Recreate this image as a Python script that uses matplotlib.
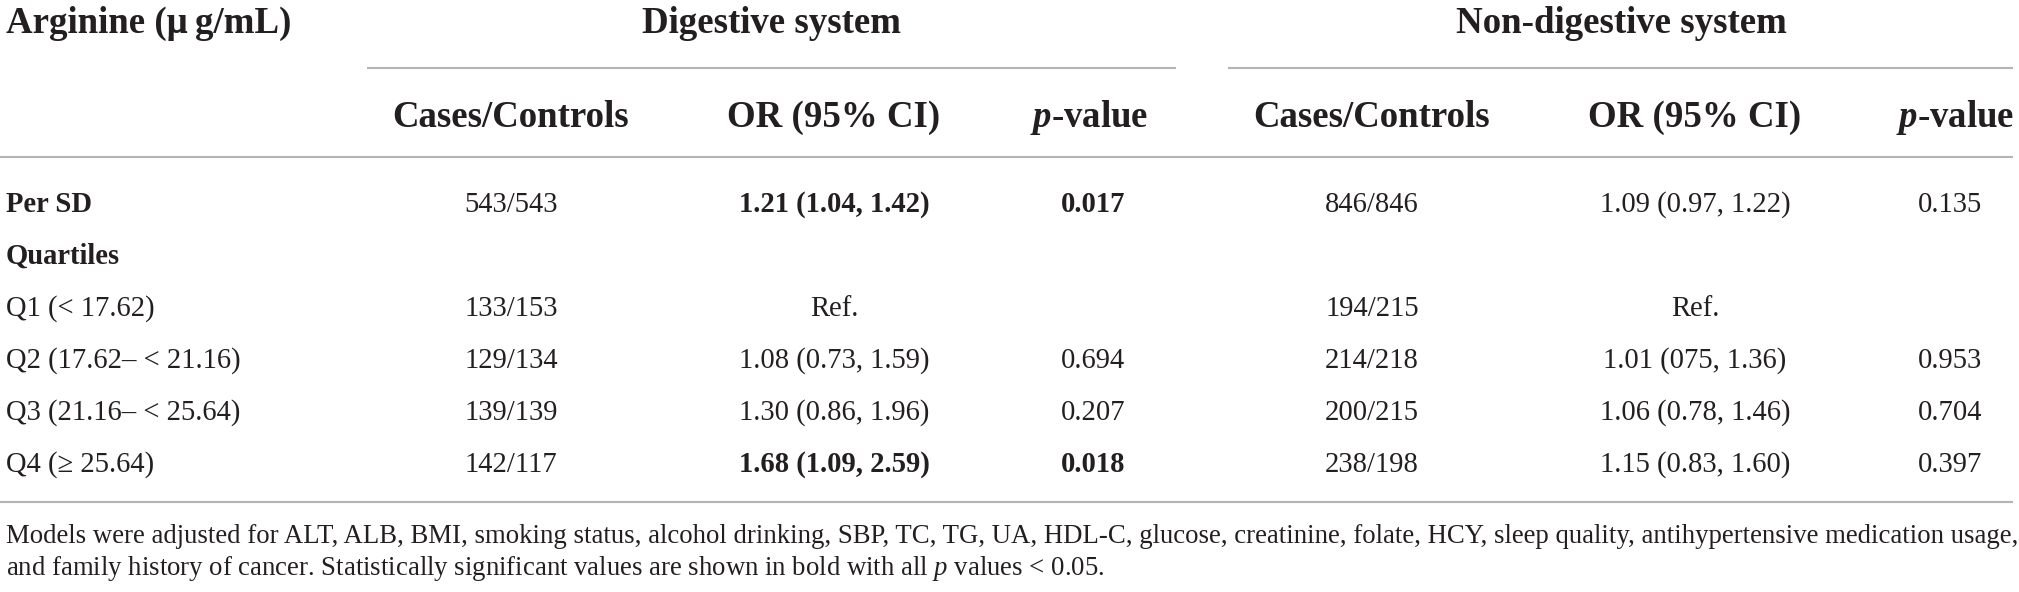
import matplotlib
matplotlib.use("Agg")
import matplotlib.pyplot as plt

plt.rcParams['font.family'] = ['Liberation Serif', 'DejaVu Serif']
plt.rcParams['mathtext.fontset'] = 'custom'
plt.rcParams['mathtext.rm'] = 'Liberation Serif'
plt.rcParams['mathtext.it'] = 'Liberation Serif:italic'
plt.rcParams['mathtext.bf'] = 'Liberation Serif:italic:bold'

# ---------------- data ----------------
title_left = "Arginine (μ\u2009g/mL)"
group_names = ["Digestive system", "Non-digestive system"]
col_headers = ["Cases/Controls", "OR (95% CI)", r"$\mathbf{p}$-value"]

row_labels = ["Per SD", "Quartiles", "Q1 (< 17.62)", "Q2 (17.62– < 21.16)",
              "Q3 (21.16– < 25.64)", "Q4 (≥ 25.64)"]
row_label_bold = [True, True, False, False, False, False]

dig_cases = ["543/543", "", "133/153", "129/134", "139/139", "142/117"]
dig_or = ["1.21 (1.04, 1.42)", "", "Ref.", "1.08 (0.73, 1.59)", "1.30 (0.86, 1.96)", "1.68 (1.09, 2.59)"]
dig_p = ["0.017", "", "", "0.694", "0.207", "0.018"]
dig_bold = [True, False, False, False, False, True]

non_cases = ["846/846", "", "194/215", "214/218", "200/215", "238/198"]
non_or = ["1.09 (0.97, 1.22)", "", "Ref.", "1.01 (075, 1.36)", "1.06 (0.78, 1.46)", "1.15 (0.83, 1.60)"]
non_p = ["0.135", "", "", "0.953", "0.704", "0.397"]
non_bold = [False, False, False, False, False, False]

footnote = ["Models were adjusted for ALT, ALB, BMI, smoking status, alcohol drinking, SBP, TC, TG, UA, HDL-C, glucose, creatinine, folate, HCY, sleep quality, antihypertensive medication usage,",
            r"and family history of cancer. Statistically significant values are shown in bold with all $\mathit{p}$ values < 0.05."]

# ---------------- layout ----------------
W, H = 2019, 592
fig = plt.figure(figsize=(W / 100, H / 100), dpi=100)
ax = fig.add_axes([0, 0, 1, 1])
ax.set_xlim(0, W)
ax.set_ylim(H, 0)
ax.axis('off')
renderer = fig.canvas.get_renderer()

TXT = '#231f20'
LINE = '#b4b4b4'


def fit_size(s, target, weight='normal'):
    t = ax.text(0, 0, s, fontsize=20, fontweight=weight)
    w = t.get_window_extent(renderer).width
    t.remove()
    return 20 * target / w


hdr_fs = fit_size("Cases/Controls", 237, 'bold')
body_fs = fit_size("Q3 (21.16– < 25.64)", 235)
foot_fs = fit_size(footnote[0], 2008)

# baselines
y_h1, y_l1, y_h2, y_l2 = 33, 68, 127, 157
row_y = [212, 264, 316, 368, 420, 472]
y_l3 = 502
foot_y = [543, 575]

left_x = 6
dig_x = [511, 834, 1093]
non_x = [1372, 1695, 1950]
hdr_p_x = [1089, 1955]

# header line 1
ax.text(left_x, y_h1, title_left, fontsize=hdr_fs, fontweight='bold', color=TXT, va='baseline', ha='left')
ax.text(772, y_h1, group_names[0], fontsize=hdr_fs, fontweight='bold', color=TXT, va='baseline', ha='center')
ax.text(1621, y_h1, group_names[1], fontsize=hdr_fs, fontweight='bold', color=TXT, va='baseline', ha='center')
ax.plot([367, 1176], [y_l1, y_l1], color=LINE, lw=1.5, solid_capstyle='butt')
ax.plot([1228, 2013], [y_l1, y_l1], color=LINE, lw=1.5, solid_capstyle='butt')

# header line 2
for xs, px in ((dig_x, hdr_p_x[0]), (non_x, hdr_p_x[1])):
    for i, h in enumerate(col_headers):
        x = px if i == 2 else xs[i]
        ax.text(x, y_h2, h, fontsize=hdr_fs, fontweight='bold', color=TXT, va='baseline', ha='center')
ax.plot([0, 2013], [y_l2, y_l2], color=LINE, lw=1.5, solid_capstyle='butt')

# body rows
for r, lab in enumerate(row_labels):
    y = row_y[r]
    ax.text(left_x, y, lab, fontsize=body_fs, fontweight='bold' if row_label_bold[r] else 'normal',
            color=TXT, va='baseline', ha='left')
    for xs, cases, ors, ps, bold in ((dig_x, dig_cases, dig_or, dig_p, dig_bold),
                                     (non_x, non_cases, non_or, non_p, non_bold)):
        ax.text(xs[0], y, cases[r], fontsize=body_fs, color=TXT, va='baseline', ha='center')
        wt = 'bold' if bold[r] else 'normal'
        ax.text(xs[1], y, ors[r], fontsize=body_fs, fontweight=wt, color=TXT, va='baseline', ha='center')
        ax.text(xs[2], y, ps[r], fontsize=body_fs, fontweight=wt, color=TXT, va='baseline', ha='center')

ax.plot([0, 2013], [y_l3, y_l3], color=LINE, lw=1.5, solid_capstyle='butt')

for i, f in enumerate(footnote):
    ax.text(left_x, foot_y[i], f, fontsize=foot_fs, color=TXT, va='baseline', ha='left')

fig.savefig("out.png", dpi=100)
